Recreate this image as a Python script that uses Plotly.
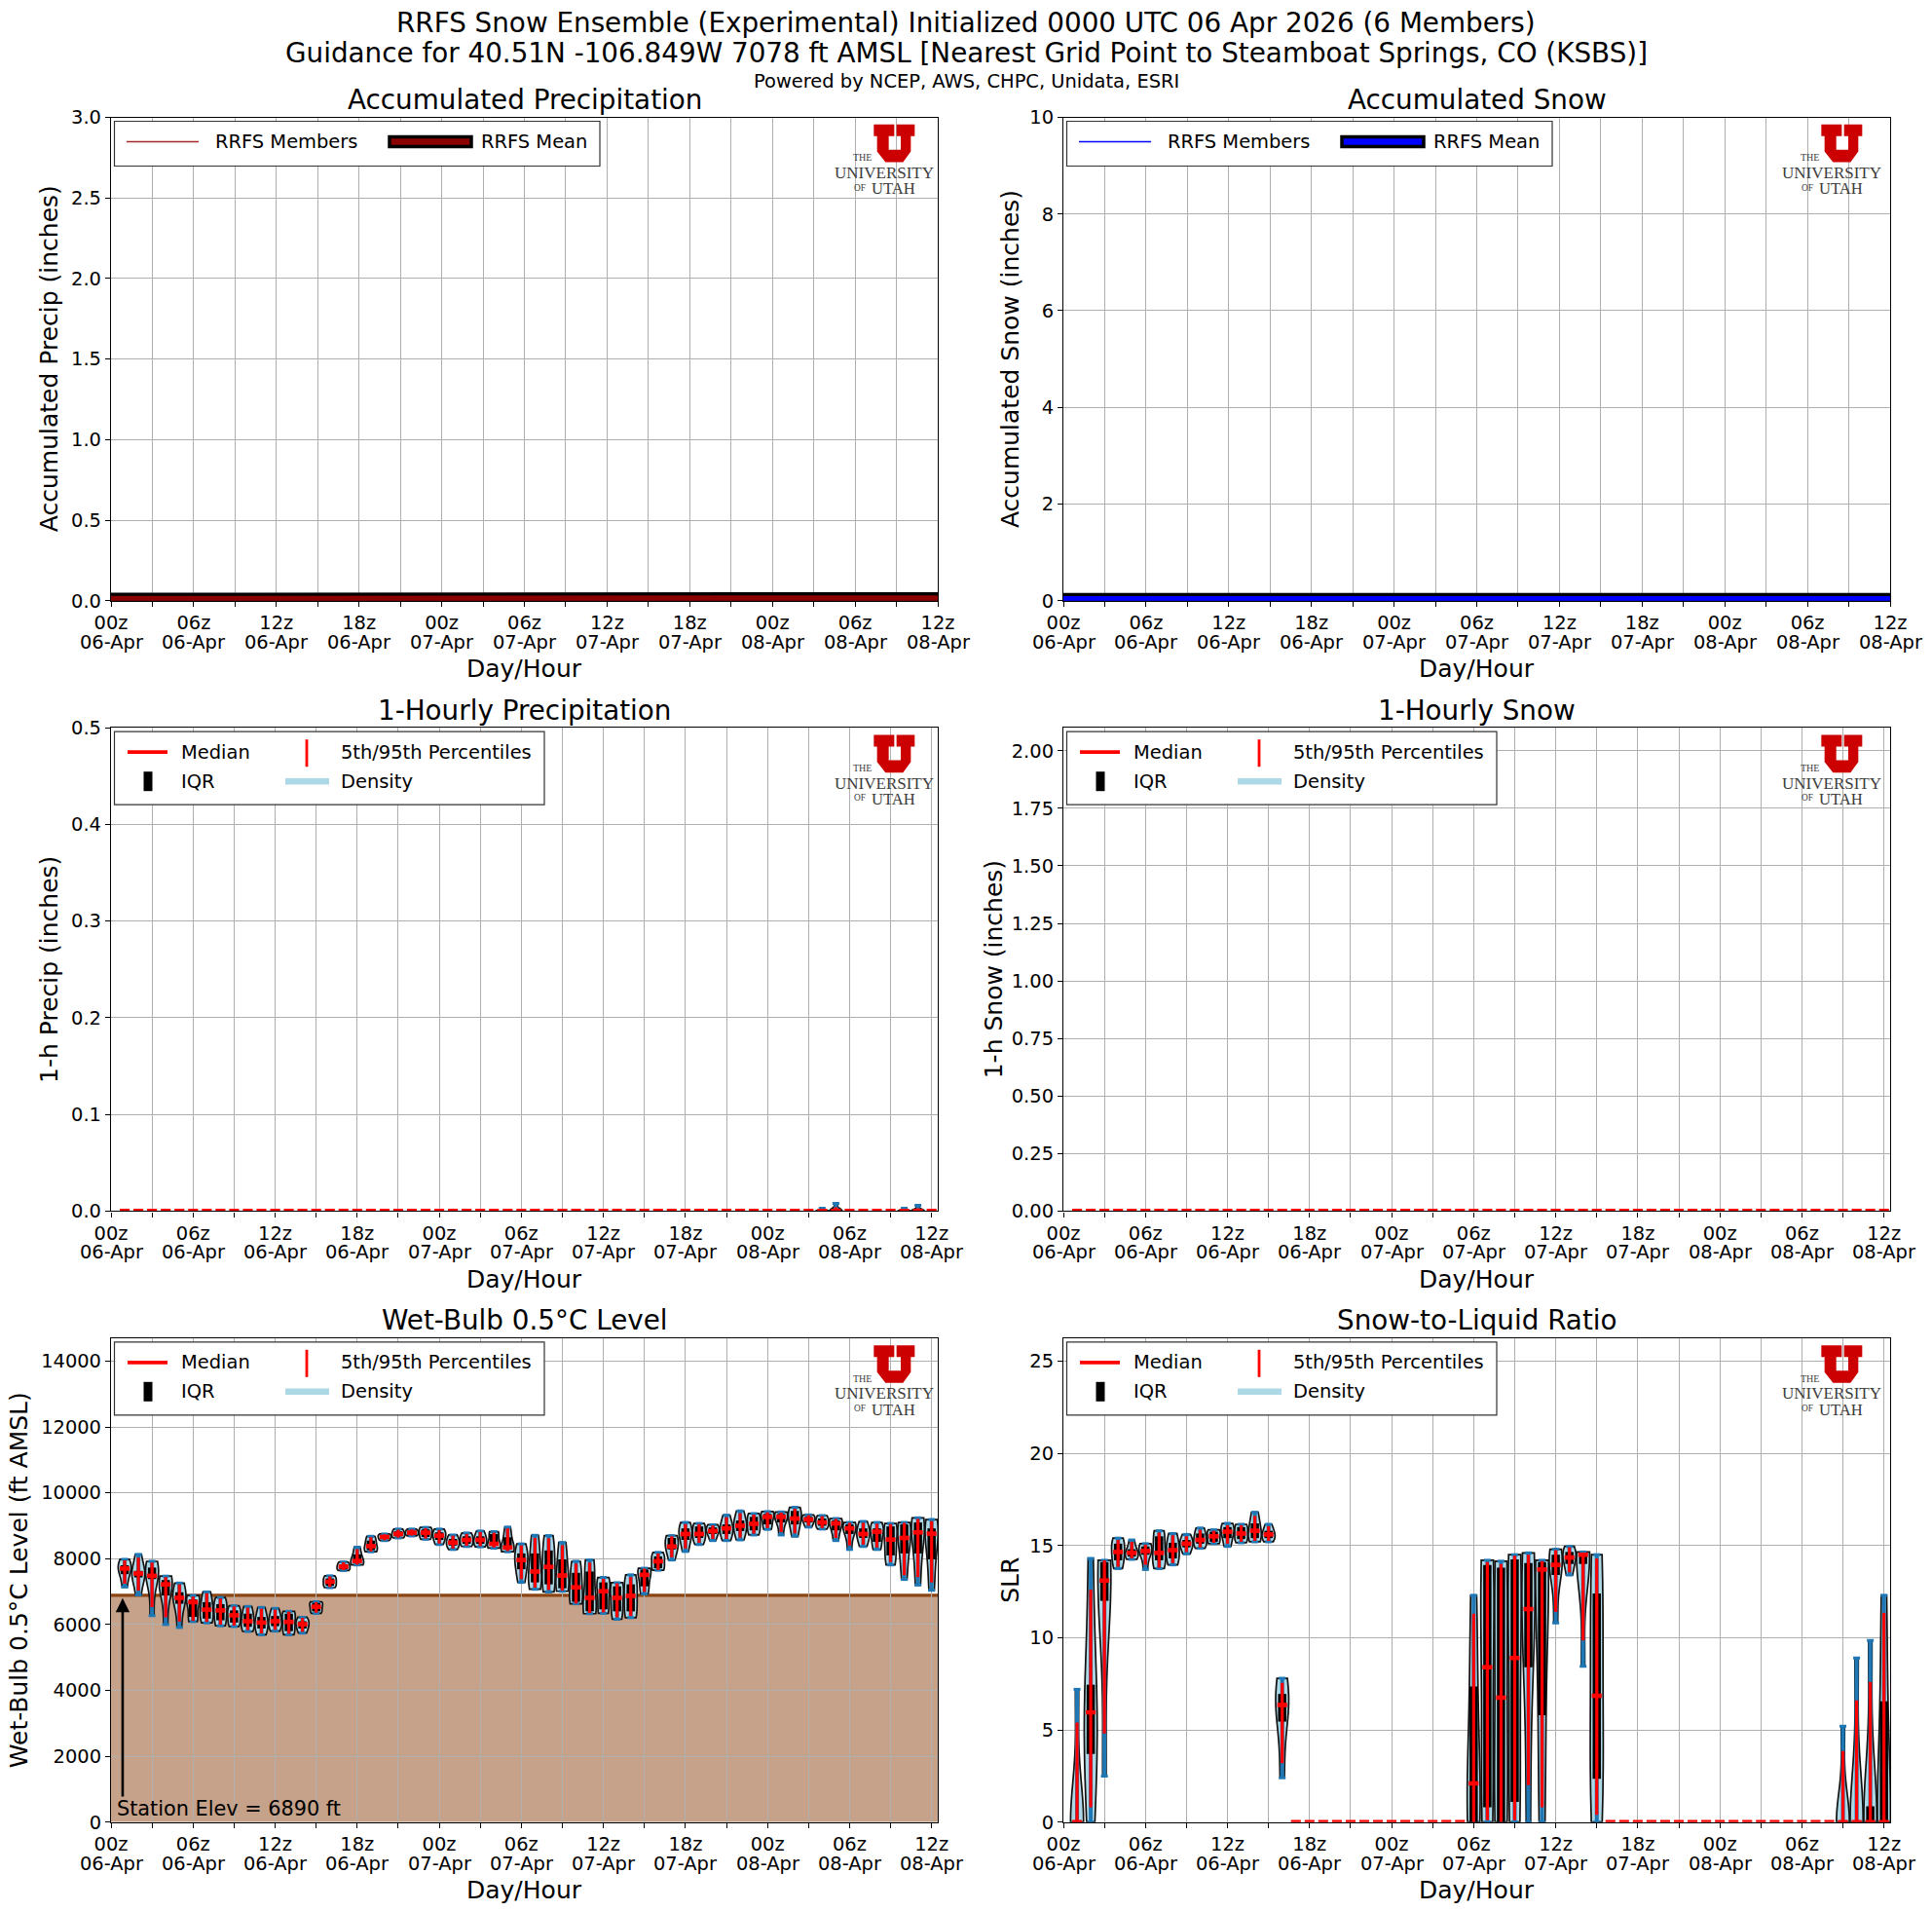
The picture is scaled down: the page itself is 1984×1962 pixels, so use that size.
import statistics
import plotly.graph_objects as go

W, H = 1984, 1962

HOURS = list(range(1, 61))
ACC_HOURS = [0, 12, 24, 36, 48, 52, 53, 58, 59, 60]
ACC_PRECIP_MEAN = [0.002, 0.002, 0.002, 0.002, 0.002, 0.003, 0.004, 0.005, 0.006, 0.006]
ACC_PRECIP_MEMBER_A = [0.0, 0.0, 0.0, 0.0, 0.0, 0.002, 0.008, 0.01, 0.016, 0.016]
ACC_PRECIP_MEMBER_B = [0.0, 0.0, 0.0, 0.0, 0.0, 0.0, 0.0, 0.0, 0.0, 0.0]
ACC_SNOW_MEAN = [0.003, 0.003, 0.003, 0.003, 0.003, 0.003, 0.003, 0.003, 0.003, 0.003]
ACC_SNOW_MEMBER_A = [0.0, 0.0, 0.0, 0.0, 0.0, 0.0, 0.0, 0.0, 0.01, 0.01]

P1_MIN = [0.0] * 60
P1_P5 = [0.0] * 60
P1_Q1 = [0.0] * 60
P1_MED = [0.0] * 60
P1_Q3 = [0.0] * 60
P1_P95 = [0,0,0,0,0,0,0,0,0,0,0,0,0,0,0,0,0,0,0,0,0,0,0,0,0,0,0,0,0,0,0,0,0,0,0,0,0,0,0,0,0,0,0,0,0,0,0,0,0,0,0,0.002,0.004,0,0,0,0,0.002,0.003,0]
P1_MAX = [0,0,0,0,0,0,0,0,0,0,0,0,0,0,0,0,0,0,0,0,0,0,0,0,0,0,0,0,0,0,0,0,0,0,0,0,0,0,0,0,0,0,0,0,0,0,0,0,0,0,0,0.003,0.008,0,0,0,0,0.003,0.006,0]

S1_MIN = [0.0] * 60
S1_P5 = [0.0] * 60
S1_Q1 = [0.0] * 60
S1_MED = [0.0] * 60
S1_Q3 = [0.0] * 60
S1_P95 = [0.0] * 60
S1_MAX = [0.0] * 60

WB_MIN = [7140,6900,6270,6000,5910,6090,6050,5960,5940,5790,5690,5800,5690,5740,6340,7120,7640,7810,8210,8550,8630,8690,8590,8430,8280,8370,8360,8320,8210,7280,7070,6990,7010,6630,6330,6340,6160,6210,6930,7650,7960,8220,8430,8550,8550,8570,8720,8890,8720,8680,8960,8900,8550,8280,8370,8280,7810,7370,7200,7040]
WB_P5 = [7240,7030,6530,6220,6090,6110,6080,6000,5970,5830,5730,5840,5720,5780,6360,7140,7650,7820,8220,8560,8640,8700,8610,8460,8310,8390,8380,8340,8230,7380,7120,7050,7030,6640,6350,6370,6220,6260,6990,7660,8040,8310,8480,8600,8600,8640,8760,8930,8810,8770,9000,8930,8630,8400,8430,8340,7900,7500,7440,7280]
WB_Q1 = [7530,7430,7380,6880,6630,6230,6180,6130,6060,5930,5880,5950,5800,5880,6400,7180,7680,7860,8260,8600,8680,8740,8660,8570,8400,8450,8450,8400,8280,7680,7280,7220,7100,6690,6400,6460,6400,6400,7160,7710,8280,8570,8630,8750,8750,8840,8860,9040,9100,9040,9100,9000,8860,8750,8630,8510,8100,8160,8160,7980]
WB_MED = [7700,7550,7480,7220,6810,6680,6450,6430,6280,6100,6060,6100,6080,6010,6540,7300,7760,7930,8380,8660,8750,8790,8790,8700,8490,8570,8570,8450,8340,7960,7610,7750,7490,7130,6810,7010,6810,6870,7510,7920,8370,8750,8750,8840,8920,9000,9060,9270,9270,9220,9190,9100,9070,8920,8750,8820,8580,8630,8800,8760]
WB_Q3 = [7800,7630,7730,7350,6980,6760,6680,6620,6430,6330,6230,6260,6330,6100,6650,7400,7830,8130,8550,8710,8830,8850,8890,8800,8600,8680,8680,8750,8650,8160,8160,8250,7980,7570,7610,7280,7160,7220,7670,8070,8630,8920,8980,8950,9040,9160,9270,9360,9360,9450,9270,9220,9160,9040,8920,8920,8980,9040,9100,8920]
WB_P95 = [7950,8030,7880,7440,7220,6850,6950,6790,6550,6510,6480,6450,6390,6200,6680,7460,7890,8290,8650,8740,8880,8890,8930,8870,8700,8750,8810,8790,8920,8400,8630,8620,8410,7850,7880,7390,7250,7440,7700,8160,8680,9050,9050,9010,9260,9380,9340,9410,9400,9520,9320,9290,9210,9090,9090,9060,9050,9090,9210,9140]
WB_MAX = [7980,8130,7920,7470,7260,6880,6990,6820,6570,6550,6520,6490,6400,6220,6690,7480,7900,8350,8680,8750,8900,8900,8950,8900,8720,8780,8840,8820,8960,8450,8710,8700,8490,7920,7960,7430,7270,7510,7710,8190,8700,9100,9070,9030,9320,9450,9370,9430,9420,9560,9330,9310,9220,9100,9130,9100,9070,9100,9240,9190]

SLR_MIN = [0,0,2.5,13.75,14.25,13.7,13.75,13.95,14.55,14.85,15.1,14.95,15.15,15.2,15.2,2.4, 0,0,0,0,0,0,0,0,0,0,0,0,0, 0,0,0,0,0,0,10.8,13.4,8.45,0, 0,0,0,0,0,0,0,0,0,0,0,0,0,0,0,0,0, 0,0,0,0]
SLR_P5 = [0,0.8,4.8,13.85,14.3,13.95,13.8,14.05,14.65,14.9,15.15,15.1,15.2,15.25,15.25,3.2, 0,0,0,0,0,0,0,0,0,0,0,0,0, 0,0.1,0,0.1,2.0,0.8,11.4,13.55,9.85,0.4, 0,0,0,0,0,0,0,0,0,0,0,0,0,0,0,0,0, 0,0,0,0]
SLR_Q1 = [0,3.7,12.0,14.2,14.4,14.5,14.2,14.3,14.9,15.1,15.2,15.4,15.35,15.4,15.4,5.45, 0,0,0,0,0,0,0,0,0,0,0,0,0, 0,0.8,0,1.1,8.4,5.8,13.4,14.0,14.0,2.35, 0,0,0,0,0,0,0,0,0,0,0,0,0,0,0,0,0, 0,0,0,0]
SLR_MED = [0,5.95,13.1,14.65,14.6,14.7,14.6,14.75,15.1,15.3,15.5,15.75,15.65,15.8,15.6,6.35, 0,0,0,0,0,0,0,0,0,0,0,0,0, 2.1,8.4,6.75,8.9,11.55,13.7,13.95,14.35,14.5,6.85, 0,0,0,0,0,0,0,0,0,0,0,0,0,0,0,0,0, 0,0,0,0]
SLR_Q3 = [0,7.45,14.1,15.1,14.8,14.95,15.5,15.15,15.3,15.65,15.75,16.0,16.0,16.2,15.8,6.95, 0,0,0,0,0,0,0,0,0,0,0,0,0, 7.35,13.95,13.8,14.25,14.05,14.1,14.5,14.65,14.55,12.4, 0,0,0,0,0,0,0,0,0,0,0,0,0,0,0,0,0, 0,0,0.85,6.55]
SLR_P95 = [5.4,12.6,14.2,15.3,15.2,15.05,15.7,15.55,15.5,15.85,15.8,16.1,16.1,16.6,16.05,7.55, 0,0,0,0,0,0,0,0,0,0,0,0,0, 11.3,14.1,14.0,14.45,14.5,14.15,14.75,14.9,14.6,14.3, 0,0,0,0,0,0,0,0,0,0,0,0,0,0,0,0,0, 3.85,6.6,7.6,11.35]
SLR_MAX = [7.2,14.3,14.2,15.4,15.3,15.1,15.8,15.65,15.6,15.95,15.85,16.2,16.15,16.8,16.15,7.8, 0,0,0,0,0,0,0,0,0,0,0,0,0, 12.3,14.2,14.15,14.5,14.6,14.2,14.8,14.95,14.65,14.5, 0,0,0,0,0,0,0,0,0,0,0,0,0,0,0,0,0, 5.2,8.9,9.85,12.3]

STATION_ELEV = 6890
TICK_HOURS = list(range(0, 61, 3))
TICK_HOUR_TEXT = ["00z", "", "06z", "", "12z", "", "18z", "", "00z", "", "06z", "", "12z", "", "18z", "",
                  "00z", "", "06z", "", "12z"]
TICK_DATE_TEXT = ["06-Apr", "", "06-Apr", "", "06-Apr", "", "06-Apr", "", "07-Apr", "", "07-Apr", "", "07-Apr", "", "07-Apr", "",
                  "08-Apr", "", "08-Apr", "", "08-Apr"]

COLS = [(114.0, 963.0), (1092.0, 1941.0)]
ROWS = [(120.5, 616.7), (747.2, 1243.4), (1373.8, 1870.7)]
TICK_PX, LABEL_PX, TITLE_PX = 19.44, 25.0, 27.8
FONT = "DejaVu Sans"
UTAH_RED = "#CC0000"

fig = go.Figure()
shapes, annos = [], []


def px(x):
    return x / W


def py(y):
    return 1 - y / H


def text(x, y, s, size=TICK_PX, xa="center", ya="middle", angle=0, color="black", fam=FONT):
    annos.append(dict(x=px(x), y=py(y), xref="paper", yref="paper", text=s, showarrow=False,
                      xanchor=xa, yanchor=ya, textangle=angle,
                      font=dict(size=size, family=fam, color=color)))


def pline(x0, y0, x1, y1, color, width):
    shapes.append(dict(type="line", xref="paper", yref="paper", x0=px(x0), y0=py(y0), x1=px(x1), y1=py(y1),
                       line=dict(color=color, width=width), layer="above"))


def prect(x0, y0, x1, y1, fill, lc="rgba(0,0,0,0)", lw=0):
    shapes.append(dict(type="rect", xref="paper", yref="paper", x0=px(x0), y0=py(y0), x1=px(x1), y1=py(y1),
                       fillcolor=fill, line=dict(color=lc, width=lw), layer="above"))


def logo(x, y):
    pts = [(22, 22), (85, 22), (85, 58), (68, 58), (68, 100), (105, 100), (105, 58), (92, 58), (92, 22), (148, 22),
           (148, 58), (136, 58), (136, 105), (112, 138), (58, 138), (32, 105), (32, 58), (22, 58)]
    d = "M " + " L ".join(f"{px(x + a / 3):.5f},{py(y + b / 3):.5f}" for a, b in pts) + " Z"
    shapes.append(dict(type="path", path=d, xref="paper", yref="paper", fillcolor=UTAH_RED, line=dict(width=0), layer="above"))
    c = "#3c3c3c"
    fam = "Liberation Serif"
    text(x - 4.5, y + 41.5, "THE", 10, color=c, fam=fam)
    text(x + 17.5, y + 57, "UNIVERSITY", 17, color=c, fam=fam)
    text(x - 7, y + 72, "OF", 9.4, color=c, fam=fam)
    text(x + 27.5, y + 73.5, "UTAH", 16.6, color=c, fam=fam)


def style_axes(i, col, row, xmax, ymax, yticks, ytext):
    n = "" if i == 1 else str(i)
    x0, x1 = COLS[col]
    y0, y1 = ROWS[row]
    common = dict(showline=True, mirror=True, linecolor="black", linewidth=1.2, ticks="outside", ticklen=5,
                  tickwidth=1.2, tickcolor="black", showgrid=True, gridcolor="#b0b0b0", gridwidth=1.2, zeroline=False,
                  tickfont=dict(size=TICK_PX, family=FONT, color="black"))
    fig.layout["xaxis" + n] = dict(common, domain=[px(x0), px(x1)], range=[0, xmax], anchor="y" + n,
                                   tickmode="array", tickvals=TICK_HOURS, ticktext=TICK_HOUR_TEXT)
    fig.layout["yaxis" + n] = dict(common, domain=[py(y1), py(y0)], range=[0, ymax], anchor="x" + n,
                                   tickmode="array", tickvals=yticks, ticktext=ytext)
    for h, d in zip(TICK_HOURS, TICK_DATE_TEXT):
        if d:
            annos.append(dict(x=h, xref="x" + n, y=py(y1 + 42.5), yref="paper", text=d, showarrow=False,
                              xanchor="center", yanchor="middle", font=dict(size=TICK_PX, family=FONT, color="black")))


def titles(col, row, title, ylabel, ylab_x):
    x0, x1 = COLS[col]
    y0, y1 = ROWS[row]
    text((x0 + x1) / 2, y0 - 18, title, TITLE_PX)
    text((x0 + x1) / 2, y1 + 70, "Day/Hour", LABEL_PX)
    text(ylab_x, (y0 + y1) / 2, ylabel, LABEL_PX, angle=-90)
    logo(x0 + 776 if col == 0 else x0 + 771, y0)


def line_legend(col, row, member, mean):
    x0 = COLS[col][0]
    y0 = ROWS[row][0]
    prect(x0 + 3.5, y0 + 4, x0 + 502, y0 + 50, "white", "#333333", 1.2)
    pline(x0 + 16, y0 + 25, x0 + 90, y0 + 25, member, 1.5)
    text(x0 + 105, y0 + 25, "RRFS Members", xa="left")
    prect(x0 + 286, y0 + 20, x0 + 370, y0 + 30, mean, "black", 3.5)
    text(x0 + 378, y0 + 25, "RRFS Mean", xa="left")


def stat_legend(col, row):
    x0 = COLS[col][0]
    y0 = ROWS[row][0]
    prect(x0 + 3.5, y0 + 4, x0 + 445, y0 + 79, "white", "#333333", 1.2)
    pline(x0 + 17, y0 + 25, x0 + 58, y0 + 25, "red", 3.8)
    text(x0 + 69.5, y0 + 25, "Median", xa="left")
    pline(x0 + 38, y0 + 45, x0 + 38, y0 + 65, "black", 9)
    text(x0 + 69.5, y0 + 55, "IQR", xa="left")
    pline(x0 + 201, y0 + 12, x0 + 201, y0 + 40, "red", 2.8)
    text(x0 + 234, y0 + 25, "5th/95th Percentiles", xa="left")
    pline(x0 + 179, y0 + 55, x0 + 224, y0 + 55, "lightblue", 6.5)
    text(x0 + 234, y0 + 55, "Density", xa="left")


def err(x, y, minus, plus, color, thick, ax, ay):
    fig.add_trace(go.Scatter(x=x, y=y, mode="markers", xaxis=ax, yaxis=ay, hoverinfo="skip",
                             marker=dict(size=1, opacity=0),
                             error_y=dict(type="data", symmetric=False, array=plus, arrayminus=minus,
                                          color=color, thickness=thick, width=0)))


def stat_panel(i, mn, p5, q1, med, q3, p95, mx, cap):
    n = "" if i == 1 else str(i)
    ax, ay = "x" + n, "y" + n
    for h, a, b, c, d, e in zip(HOURS, mn, q1, med, q3, mx):
        if e > a:
            sample = [a, b, c, d, e]
            fig.add_trace(go.Violin(x=[h] * 5, y=sample, xaxis=ax, yaxis=ay, width=0.95, spanmode="hard",
                                    bandwidth=0.7 * statistics.stdev(sample),
                                    points=False, fillcolor="lightblue", line=dict(color="#111111", width=1.7),
                                    scalemode="width", hoverinfo="skip", box_visible=False, meanline_visible=False))
    ext_h = [h for h, a, e in zip(HOURS, mn, mx) if e > a]
    ext_lo = [a for a, e in zip(mn, mx) if e > a]
    ext_hi = [e for a, e in zip(mn, mx) if e > a]
    ext_mid = [c for c, a, e in zip(med, mn, mx) if e > a]
    if ext_h:
        err(ext_h, ext_mid, [c - a for c, a in zip(ext_mid, ext_lo)], [e - c for c, e in zip(ext_mid, ext_hi)],
            "#1f77b4", 4, ax, ay)
        fig.add_trace(go.Scatter(x=ext_h + ext_h, y=ext_lo + ext_hi, mode="markers", xaxis=ax, yaxis=ay, hoverinfo="skip",
                                 marker=dict(size=1, opacity=0),
                                 error_x=dict(type="constant", value=cap, color="#1f77b4", thickness=3, width=0)))
    err(HOURS, med, [m - a for m, a in zip(med, q1)], [b - m for m, b in zip(med, q3)], "black", 8.5, ax, ay)
    err(HOURS, med, [m - a for m, a in zip(med, p5)], [b - m for m, b in zip(med, p95)], "red", 3.2, ax, ay)
    fig.add_trace(go.Scatter(x=HOURS, y=med, mode="markers", xaxis=ax, yaxis=ay, hoverinfo="skip",
                             marker=dict(size=1, opacity=0),
                             error_x=dict(type="constant", value=0.36, color="red", thickness=4.6, width=0)))


# --- accumulated panels
style_axes(1, 0, 0, 60, 3.0, [0, 0.5, 1, 1.5, 2, 2.5, 3], ["0.0", "0.5", "1.0", "1.5", "2.0", "2.5", "3.0"])
style_axes(2, 1, 0, 60, 10, [0, 2, 4, 6, 8, 10], ["0", "2", "4", "6", "8", "10"])
for ax, ay, mean, members, color, mcol in [
    ("x", "y", ACC_PRECIP_MEAN, [ACC_PRECIP_MEMBER_A, ACC_PRECIP_MEMBER_B], "darkred", "brown"),
    ("x2", "y2", ACC_SNOW_MEAN, [ACC_SNOW_MEMBER_A], "blue", "blue"),
]:
    for m in members:
        fig.add_trace(go.Scatter(x=ACC_HOURS, y=m, mode="lines", xaxis=ax, yaxis=ay, hoverinfo="skip",
                                 line=dict(color=mcol, width=1.5)))
    fig.add_trace(go.Scatter(x=ACC_HOURS, y=mean, mode="lines", xaxis=ax, yaxis=ay, hoverinfo="skip",
                             line=dict(color="black", width=15.6)))
    fig.add_trace(go.Scatter(x=ACC_HOURS, y=mean, mode="lines", xaxis=ax, yaxis=ay, hoverinfo="skip",
                             line=dict(color=color, width=9)))

# --- statistics panels
XMAX = 60.45
style_axes(3, 0, 1, XMAX, 0.5, [0, 0.1, 0.2, 0.3, 0.4, 0.5], ["0.0", "0.1", "0.2", "0.3", "0.4", "0.5"])
style_axes(4, 1, 1, XMAX, 2.1, [0, 0.25, 0.5, 0.75, 1, 1.25, 1.5, 1.75, 2],
           ["0.00", "0.25", "0.50", "0.75", "1.00", "1.25", "1.50", "1.75", "2.00"])
style_axes(5, 0, 2, XMAX, 14700, list(range(0, 14001, 2000)), [str(v) for v in range(0, 14001, 2000)])
style_axes(6, 1, 2, XMAX, 26.25, [0, 5, 10, 15, 20, 25], ["0", "5", "10", "15", "20", "25"])

stat_panel(3, P1_MIN, P1_P5, P1_Q1, P1_MED, P1_Q3, P1_P95, P1_MAX, 0.25)
stat_panel(4, S1_MIN, S1_P5, S1_Q1, S1_MED, S1_Q3, S1_P95, S1_MAX, 0.25)
stat_panel(5, WB_MIN, WB_P5, WB_Q1, WB_MED, WB_Q3, WB_P95, WB_MAX, 0.25)
stat_panel(6, SLR_MIN, SLR_P5, SLR_Q1, SLR_MED, SLR_Q3, SLR_P95, SLR_MAX, 0.25)

shapes.append(dict(type="rect", xref="x5", yref="y5", x0=0, x1=XMAX, y0=0, y1=STATION_ELEV,
                   fillcolor="rgba(139,69,19,0.5)", line=dict(width=0), layer="below"))
shapes.append(dict(type="line", xref="x5", yref="y5", x0=0, x1=XMAX, y0=STATION_ELEV, y1=STATION_ELEV,
                   line=dict(color="saddlebrown", width=3.2), layer="below"))
annos.append(dict(x=0.85, y=6800, ax=0.85, ay=730, xref="x5", yref="y5", axref="x5", ayref="y5", text="",
                  showarrow=True, arrowhead=2, arrowsize=1.1, arrowwidth=2.6, arrowcolor="black"))
annos.append(dict(x=0.28, y=5, xref="x5", yref="y5", text=f"Station Elev = {STATION_ELEV} ft", showarrow=False,
                  xanchor="left", yanchor="bottom", font=dict(size=20.8, family=FONT, color="black")))

titles(0, 0, "Accumulated Precipitation", "Accumulated Precip (inches)", 50.6)
titles(1, 0, "Accumulated Snow", "Accumulated Snow (inches)", 1037.5)
titles(0, 1, "1-Hourly Precipitation", "1-h Precip (inches)", 50.6)
titles(1, 1, "1-Hourly Snow", "1-h Snow (inches)", 1020)
titles(0, 2, "Wet-Bulb 0.5°C Level", "Wet-Bulb 0.5°C Level (ft AMSL)", 19)
titles(1, 2, "Snow-to-Liquid Ratio", "SLR", 1037.5)

line_legend(0, 0, "brown", "darkred")
line_legend(1, 0, "blue", "blue")
for c, r in [(0, 1), (1, 1), (0, 2), (1, 2)]:
    stat_legend(c, r)

text(992, 23, "RRFS Snow Ensemble (Experimental) Initialized 0000 UTC 06 Apr 2026 (6 Members)", TITLE_PX)
text(992, 54.5, "Guidance for 40.51N -106.849W 7078 ft AMSL [Nearest Grid Point to Steamboat Springs, CO (KSBS)]", TITLE_PX)
text(992, 83, "Powered by NCEP, AWS, CHPC, Unidata, ESRI", TICK_PX)

fig.update_layout(width=W, height=H, margin=dict(l=0, r=0, t=0, b=0, pad=0, autoexpand=False), showlegend=False,
                  paper_bgcolor="white", plot_bgcolor="white", shapes=shapes, annotations=annos,
                  violinmode="overlay", font=dict(family=FONT))
fig.write_html("out.html", config={"displayModeBar": False},
               post_script="document.body.style.margin='0';document.documentElement.style.overflow='hidden';")
